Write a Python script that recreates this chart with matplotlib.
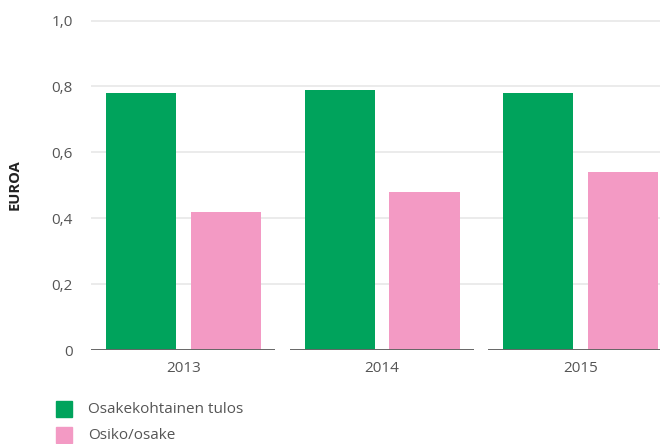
import matplotlib.pyplot as plt
import numpy as np
from matplotlib.patches import Rectangle

# --------------------------------------------------
# data
# --------------------------------------------------
years = ["2013", "2014", "2015"]
eps = [0.78, 0.79, 0.78]          # Osakekohtainen tulos
dividend = [0.42, 0.48, 0.54]     # Osiko/osake
yticks = [0.0, 0.2, 0.4, 0.6, 0.8, 1.0]
ytick_labels = ["0", "0,2", "0,4", "0,6", "0,8", "1,0"]
series_names = ["Osakekohtainen tulos", "Osiko/osake"]

GREEN = "#00a35c"
PINK = "#f39ac4"
TXT = "#555555"

plt.rcParams.update({
    "font.family": ["Open Sans", "DejaVu Sans"],
    "font.size": 11,
})

fig = plt.figure(figsize=(6.7, 4.44), dpi=100)
ax = fig.add_axes([91 / 670, 94 / 444, (660 - 91) / 670, (350 - 14) / 444])

x = np.arange(len(years))
w = 0.353
off = 0.214
ax.bar(x - off, eps, width=w, color=GREEN, zorder=3)
ax.bar(x + off, dividend, width=w, color=PINK, zorder=3)

ax.set_xlim(-0.466, 2.40)
ax.set_ylim(0, 1.02)

# gridlines
for t in yticks[1:]:
    ax.axhline(t, color="#e8e8e8", linewidth=1.2, zorder=1)

# baseline segments per category
for xi in x:
    ax.plot([xi - 0.465, xi + 0.462], [0, 0], color="#666666", linewidth=1.4,
            zorder=4, solid_capstyle="butt", clip_on=True)

ax.set_yticks(yticks)
ax.set_yticklabels(ytick_labels, color=TXT, fontsize=11)
ax.set_xticks(x)
ax.set_xticklabels(years, color=TXT, fontsize=11)
ax.tick_params(length=0)
ax.tick_params(axis="y", pad=13)
ax.tick_params(axis="x", pad=8)
for s in ax.spines.values():
    s.set_visible(False)

fig.text(15 / 670, 1 - 185 / 444, "EUROA", rotation=90, ha="center", va="center",
         fontsize=10.5, fontweight="bold", color="#222222")

# legend
for i, (name, col) in enumerate(zip(series_names, [GREEN, PINK])):
    yc = 409 + i * 26
    fig.patches.append(Rectangle((56 / 670, 1 - (yc + 8) / 444), 16 / 670, 16 / 444,
                                 transform=fig.transFigure, color=col))
    fig.text(88 / 670, 1 - yc / 444, name, va="center", ha="left",
             fontsize=11, color=TXT)

fig.savefig("out.png", dpi=100)
